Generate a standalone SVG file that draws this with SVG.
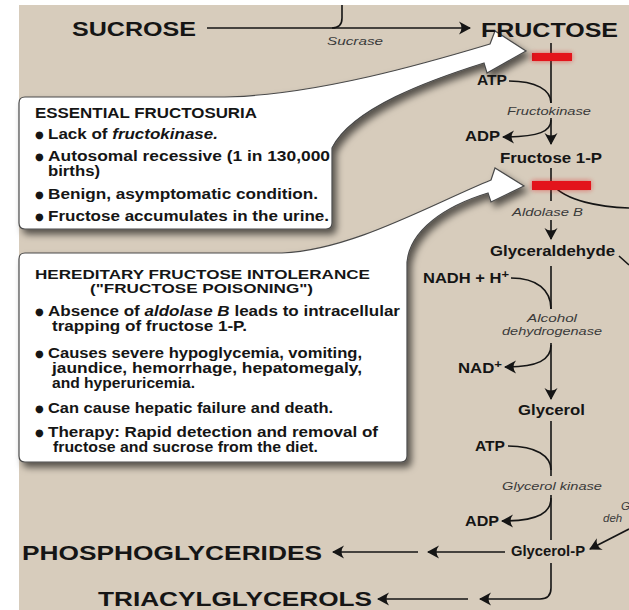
<svg xmlns="http://www.w3.org/2000/svg" width="629" height="610" viewBox="0 0 629 610">
<defs>
<style>
.big{font-family:"Liberation Sans",Arial,sans-serif;font-weight:bold;font-size:21px;fill:#151515}
.met{font-family:"Liberation Sans",Arial,sans-serif;font-weight:bold;font-size:14px;fill:#151515}
.enz{font-family:"Liberation Sans",Arial,sans-serif;font-style:italic;font-size:11.5px;fill:#3a3a3a}
.bx{font-family:"Liberation Sans",Arial,sans-serif;font-weight:bold;font-size:14px;fill:#151515}
.hd{font-family:"Liberation Sans",Arial,sans-serif;font-weight:bold;font-size:13px;fill:#151515}
.bul{font-family:"DejaVu Sans",sans-serif;font-size:10px;fill:#151515}
.ln{fill:none;stroke:#151515;stroke-width:1.6}
.arr{marker-end:url(#ah)}
.callout{fill:#ffffff;stroke:#4a4a4a;stroke-width:1.2;filter:url(#sh)}
.bar{fill:#e3141b}
</style>
<marker id="ah" viewBox="0 0 12 14" refX="11" refY="7" markerWidth="12" markerHeight="14" markerUnits="userSpaceOnUse" orient="auto">
<path d="M12,7 L0,0.5 Q5,7 0,13.5 Z" fill="#151515"/>
</marker>
<filter id="sh" x="-10%" y="-10%" width="130%" height="130%">
<feDropShadow dx="4" dy="5" stdDeviation="3.5" flood-color="#000" flood-opacity="0.6"/>
</filter>
<filter id="glow" x="-30%" y="-100%" width="160%" height="300%">
<feGaussianBlur stdDeviation="2.5"/>
</filter>
</defs>
<rect x="0" y="0" width="629" height="610" fill="#ffffff"/>
<rect x="19" y="5" width="610" height="605" fill="#d7ccbc"/>

<g id="connectors">
<path class="ln" d="M342,5 V18 Q342,28 332,28"/>
<path class="ln arr" d="M207,28 H470"/>
<path class="ln" d="M551,43 V103"/>
<path class="ln" d="M509,81 C536,81 551,90 551,103"/>
<path class="ln arr" d="M551,118 V144"/>
<path class="ln arr" d="M551,120 C551,131 540,137 503,137"/>
<path class="ln" d="M551,168 V201"/>
<path class="ln" d="M553,185 C566,201 600,207 629,208"/>
<path class="ln arr" d="M551,220 V239"/>
<path class="ln" d="M619,256 L629,265"/>
<path class="ln" d="M551,266 V309"/>
<path class="ln" d="M511,278 C537,278 551,290 551,309"/>
<path class="ln arr" d="M551,343 V399"/>
<path class="ln arr" d="M551,345 C551,360 538,367 505,367"/>
<path class="ln" d="M551,421 V476"/>
<path class="ln" d="M508,446 C536,446 551,456 551,470"/>
<path class="ln" d="M551,495 V540"/>
<path class="ln arr" d="M551,498 C551,512 540,521 502,521"/>
<path class="ln arr" d="M505,552 H428"/>
<path class="ln arr" d="M418,552 H333"/>
<path class="ln arr" d="M551,563 V588 Q551,599 540,599 H480"/>
<path class="ln arr" d="M468,599 H378"/>
<path class="ln arr" d="M629,529 L590,549"/>
</g>

<g id="block-fructokinase">
<rect x="532" y="53" width="40" height="8" class="bar" filter="url(#glow)" opacity="0.6"/>
<rect x="532" y="53" width="40" height="8" class="bar"/>
</g>
<g id="block-aldolase">
<rect x="532" y="181" width="59" height="9" class="bar" filter="url(#glow)" opacity="0.6"/>
<rect x="532" y="181" width="59" height="9" class="bar"/>
</g>

<g id="box-essential-fructosuria">
<path class="callout" d="M25,97 H225 C318,95 430,62 490,44 L495,31 L526,51 L487,73 L484,63 C430,80 352,108 332,148 V223 Q332,229 326,229 H25 Q19,229 19,223 V103 Q19,97 25,97 Z"/>
<text class="bx" x="35" y="118" textLength="222" lengthAdjust="spacingAndGlyphs">ESSENTIAL FRUCTOSURIA</text>
<text class="bul" x="35" y="138">●</text>
<text class="bx" x="48" y="139" textLength="170" lengthAdjust="spacingAndGlyphs">Lack of <tspan font-style="italic">fructokinase.</tspan></text>
<text class="bul" x="35" y="160">●</text>
<text class="bx" x="48" y="161" textLength="282" lengthAdjust="spacingAndGlyphs">Autosomal recessive (1 in 130,000</text>
<text class="bx" x="48" y="176" textLength="52" lengthAdjust="spacingAndGlyphs">births)</text>
<text class="bul" x="35" y="198">●</text>
<text class="bx" x="48" y="199" textLength="270" lengthAdjust="spacingAndGlyphs">Benign, asymptomatic condition.</text>
<text class="bul" x="35" y="220">●</text>
<text class="bx" x="48" y="221" textLength="281" lengthAdjust="spacingAndGlyphs">Fructose accumulates in the urine.</text>
</g>

<g id="box-hereditary-fructose-intolerance">
<path class="callout" d="M25,253 H282 C352,250 430,205 491,180 L495,168 L524,186 L491,202 L488,193 C445,206 410,230 407,262 V456 Q407,462 401,462 H25 Q19,462 19,456 V259 Q19,253 25,253 Z"/>
<text class="hd" x="35" y="279" textLength="335" lengthAdjust="spacingAndGlyphs">HEREDITARY FRUCTOSE INTOLERANCE</text>
<text class="hd" x="90" y="293" textLength="223" lengthAdjust="spacingAndGlyphs">("FRUCTOSE POISONING")</text>
<text class="bul" x="35" y="315">●</text>
<text class="bx" x="48" y="316" textLength="352" lengthAdjust="spacingAndGlyphs">Absence of <tspan font-style="italic">aldolase B</tspan> leads to intracellular</text>
<text class="bx" x="52" y="331" textLength="195" lengthAdjust="spacingAndGlyphs">trapping of fructose 1-P.</text>
<text class="bul" x="35" y="357">●</text>
<text class="bx" x="48" y="358" textLength="314" lengthAdjust="spacingAndGlyphs">Causes severe hypoglycemia, vomiting,</text>
<text class="bx" x="52" y="373" textLength="310" lengthAdjust="spacingAndGlyphs">jaundice, hemorrhage, hepatomegaly,</text>
<text class="bx" x="52" y="388" textLength="143" lengthAdjust="spacingAndGlyphs">and hyperuricemia.</text>
<text class="bul" x="35" y="412">●</text>
<text class="bx" x="48" y="413" textLength="285" lengthAdjust="spacingAndGlyphs">Can cause hepatic failure and death.</text>
<text class="bul" x="35" y="436">●</text>
<text class="bx" x="48" y="437" textLength="330" lengthAdjust="spacingAndGlyphs">Therapy: Rapid detection and removal of</text>
<text class="bx" x="53" y="452" textLength="265" lengthAdjust="spacingAndGlyphs">fructose and sucrose from the diet.</text>
</g>

<g id="sucrose"><text class="big" x="72" y="36" textLength="124" lengthAdjust="spacingAndGlyphs">SUCROSE</text></g>
<g id="sucrase"><text class="enz" x="327" y="45" textLength="56" lengthAdjust="spacingAndGlyphs">Sucrase</text></g>
<g id="fructose"><text class="big" x="481" y="37" textLength="137" lengthAdjust="spacingAndGlyphs">FRUCTOSE</text></g>
<g id="atp1"><text class="met" x="477" y="85" textLength="30" lengthAdjust="spacingAndGlyphs">ATP</text></g>
<g id="fructokinase"><text class="enz" x="507" y="115" textLength="84" lengthAdjust="spacingAndGlyphs">Fructokinase</text></g>
<g id="adp1"><text class="met" x="465" y="141" textLength="35" lengthAdjust="spacingAndGlyphs">ADP</text></g>
<g id="fructose1p"><text class="met" x="500" y="163" textLength="102" lengthAdjust="spacingAndGlyphs">Fructose 1-P</text></g>
<g id="aldolaseb"><text class="enz" x="512" y="216" textLength="71" lengthAdjust="spacingAndGlyphs">Aldolase B</text></g>
<g id="glyceraldehyde"><text class="met" x="490" y="256" textLength="125" lengthAdjust="spacingAndGlyphs">Glyceraldehyde</text></g>
<g id="nadh"><text class="met" x="423" y="283" textLength="86" lengthAdjust="spacingAndGlyphs">NADH + H<tspan dy="-5" font-size="11">+</tspan></text></g>
<g id="adh"><text class="enz" x="527" y="322" textLength="50" lengthAdjust="spacingAndGlyphs">Alcohol</text><text class="enz" x="502" y="335" textLength="100" lengthAdjust="spacingAndGlyphs">dehydrogenase</text></g>
<g id="nad"><text class="met" x="458" y="373" textLength="44" lengthAdjust="spacingAndGlyphs">NAD<tspan dy="-5" font-size="11">+</tspan></text></g>
<g id="glycerol"><text class="met" x="518" y="415" textLength="67" lengthAdjust="spacingAndGlyphs">Glycerol</text></g>
<g id="atp2"><text class="met" x="475" y="451" textLength="30" lengthAdjust="spacingAndGlyphs">ATP</text></g>
<g id="glycerolkinase"><text class="enz" x="502" y="490" textLength="100" lengthAdjust="spacingAndGlyphs">Glycerol kinase</text></g>
<g id="adp2"><text class="met" x="465" y="526" textLength="34" lengthAdjust="spacingAndGlyphs">ADP</text></g>
<g id="g3pdh"><text class="enz" x="621" y="510">G</text><text class="enz" x="603" y="522">deh</text></g>
<g id="glycerolp"><text class="met" x="511" y="556" textLength="74" lengthAdjust="spacingAndGlyphs">Glycerol-P</text></g>
<g id="phosphoglycerides"><text class="big" x="22" y="560" textLength="300" lengthAdjust="spacingAndGlyphs">PHOSPHOGLYCERIDES</text></g>
<g id="triacylglycerols"><text class="big" x="98" y="606" textLength="274" lengthAdjust="spacingAndGlyphs">TRIACYLGLYCEROLS</text></g>
</svg>
